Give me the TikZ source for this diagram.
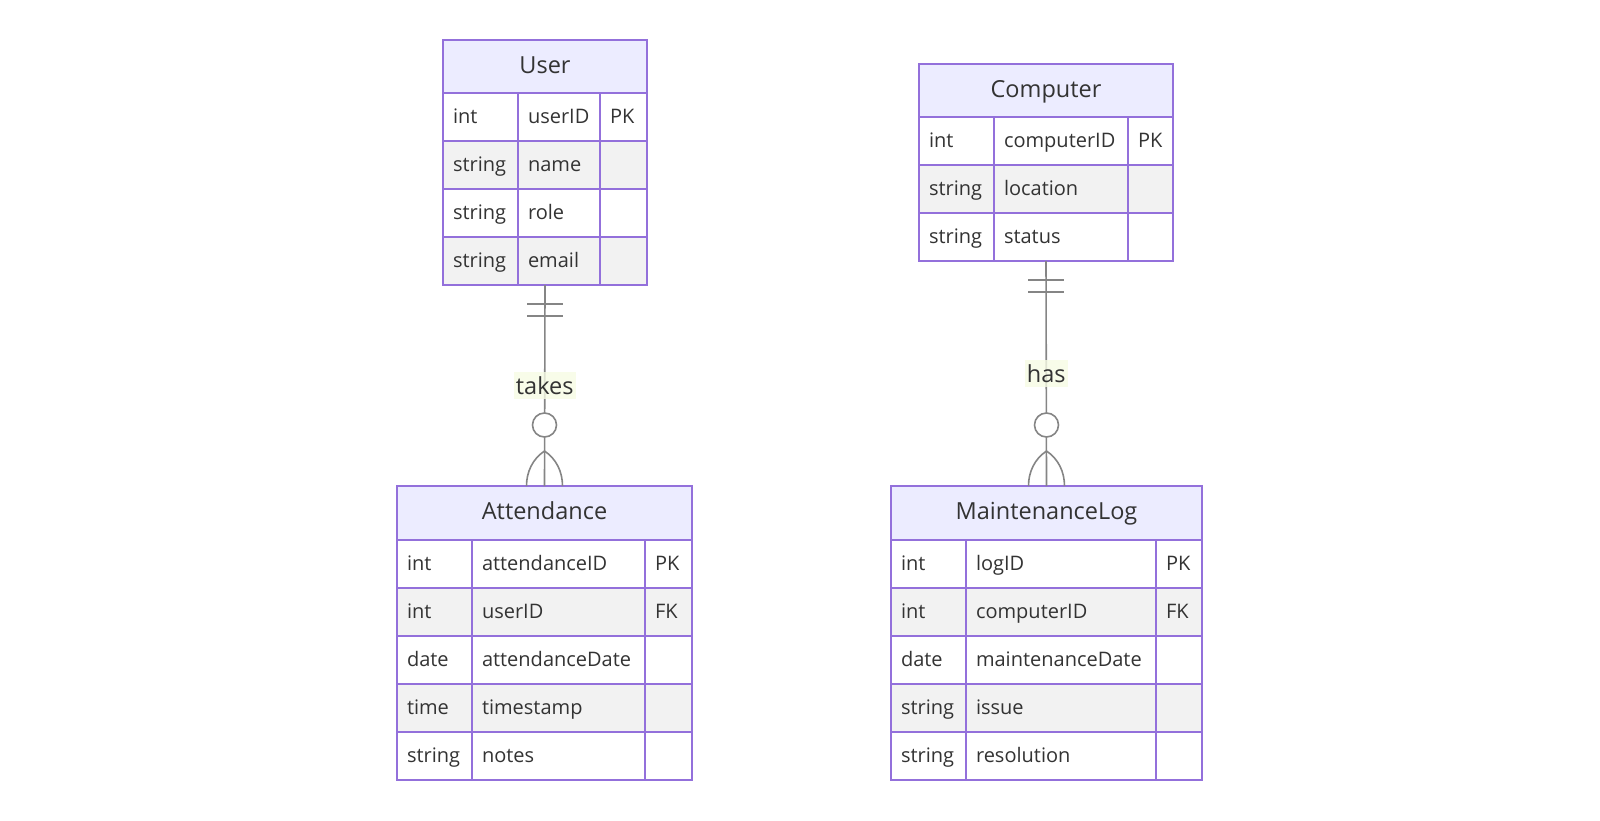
\documentclass[tikz,border=0pt]{standalone}
\usepackage{fontspec}
\setmainfont{Open Sans}
\usetikzlibrary{calc,positioning}

\definecolor{erline}{HTML}{9370DB}
\definecolor{erhead}{HTML}{ECECFF}
\definecolor{errow}{HTML}{F2F2F2}
\definecolor{ertext}{HTML}{333333}
\definecolor{relline}{HTML}{858585}
\definecolor{lblbg}{HTML}{F6FBE4}

\begin{document}
\begin{tikzpicture}[
    x=1pt, y=-1pt,
    hdr/.style={draw=erline, fill=erhead, line width=2pt, outer sep=0pt, minimum height=53pt, text height=13pt, text depth=0pt, text=ertext, font=\fontsize{23.5}{28}\selectfont},
    cell/.style={draw=erline, line width=2pt, outer sep=0pt, anchor=north west, minimum height=48pt, inner xsep=10pt, inner ysep=0pt, text width=#1, text height=13.5pt, text depth=0pt, align=left, text=ertext, font=\fontsize{20}{24}\selectfont},
    row1/.style={fill=white},
    row0/.style={fill=errow},
    rel/.style={draw=relline, line width=1.6pt},
    lbl/.style={fill=lblbg, fill opacity=0.8, text opacity=1, text=ertext, font=\fontsize{23.5}{28}\selectfont, inner xsep=2pt, inner ysep=4pt}
  ]
    \useasboundingbox (0,0) rectangle (1600,820);

    % entity: User
    \node[hdr, minimum width=204pt] (usr) at (545,66.5) {User};
    \foreach \ty/\nm/\ky [count=\i] in {int/userID/PK, string/name/{}, string/role/{}, string/email/{}} {
      \pgfmathtruncatemacro\p{mod(\i,2)}
      \node[cell=55pt, row\p] (usr-\i-t) at ($(usr.south west)+(0,{(\i-1)*48})$) {\ty};
      \node[cell=62pt, row\p] (usr-\i-n) at (usr-\i-t.north east) {\nm};
      \node[cell=27pt, row\p] (usr-\i-k) at (usr-\i-n.north east) {\ky};
    }

    % entity: Attendance
    \node[hdr, minimum width=295pt, minimum height=54pt] (att) at (544.5,513) {Attendance};
    \foreach \ty/\nm/\ky [count=\i] in {int/attendanceID/PK, int/userID/FK, date/attendanceDate/{}, time/timestamp/{}, string/notes/{}} {
      \pgfmathtruncatemacro\p{mod(\i,2)}
      \node[cell=55pt, row\p] (att-\i-t) at ($(att.south west)+(0,{(\i-1)*48})$) {\ty};
      \node[cell=153pt, row\p] (att-\i-n) at (att-\i-t.north east) {\nm};
      \node[cell=27pt, row\p] (att-\i-k) at (att-\i-n.north east) {\ky};
    }

    % entity: Computer
    \node[hdr, minimum width=254pt] (cmp) at (1046,90.5) {Computer};
    \foreach \ty/\nm/\ky [count=\i] in {int/computerID/PK, string/location/{}, string/status/{}} {
      \pgfmathtruncatemacro\p{mod(\i,2)}
      \node[cell=55pt, row\p] (cmp-\i-t) at ($(cmp.south west)+(0,{(\i-1)*48})$) {\ty};
      \node[cell=114pt, row\p] (cmp-\i-n) at (cmp-\i-t.north east) {\nm};
      \node[cell=25pt, row\p] (cmp-\i-k) at (cmp-\i-n.north east) {\ky};
    }

    % entity: MaintenanceLog
    \node[hdr, minimum width=311pt, minimum height=54pt] (mlog) at (1046.5,513) {MaintenanceLog};
    \foreach \ty/\nm/\ky [count=\i] in {int/logID/PK, int/computerID/FK, date/maintenanceDate/{}, string/issue/{}, string/resolution/{}} {
      \pgfmathtruncatemacro\p{mod(\i,2)}
      \node[cell=55pt, row\p] (mlog-\i-t) at ($(mlog.south west)+(0,{(\i-1)*48})$) {\ty};
      \node[cell=170pt, row\p] (mlog-\i-n) at (mlog-\i-t.north east) {\nm};
      \node[cell=26pt, row\p] (mlog-\i-k) at (mlog-\i-n.north east) {\ky};
    }

    % User ||--o{ Attendance
    \coordinate (usr-bot) at (usr.south |- usr-4-t.south);
    \draw[rel] (usr-bot) -- node[lbl] {takes} (att.north);
    \draw[rel] ($(usr-bot)+(-18,19)$) -- ++(36,0);
    \draw[rel] ($(usr-bot)+(-18,31)$) -- ++(36,0);
    \draw[rel, fill=white] ($(att.north)+(0,-61)$) circle[radius=12];
    \draw[rel] ($(att.north)+(0,-35)$) .. controls +(-12,8) and +(0,-14) .. ($(att.north)+(-18,0)$);
    \draw[rel] ($(att.north)+(0,-35)$) .. controls +(12,8) and +(0,-14) .. ($(att.north)+(18,0)$);

    % Computer ||--o{ MaintenanceLog
    \coordinate (cmp-bot) at (cmp.south |- cmp-3-t.south);
    \draw[rel] (cmp-bot) -- node[lbl] {has} (mlog.north);
    \draw[rel] ($(cmp-bot)+(-18,19)$) -- ++(36,0);
    \draw[rel] ($(cmp-bot)+(-18,31)$) -- ++(36,0);
    \draw[rel, fill=white] ($(mlog.north)+(0,-61)$) circle[radius=12];
    \draw[rel] ($(mlog.north)+(0,-35)$) .. controls +(-12,8) and +(0,-14) .. ($(mlog.north)+(-18,0)$);
    \draw[rel] ($(mlog.north)+(0,-35)$) .. controls +(12,8) and +(0,-14) .. ($(mlog.north)+(18,0)$);
  \end{tikzpicture}
\end{document}
